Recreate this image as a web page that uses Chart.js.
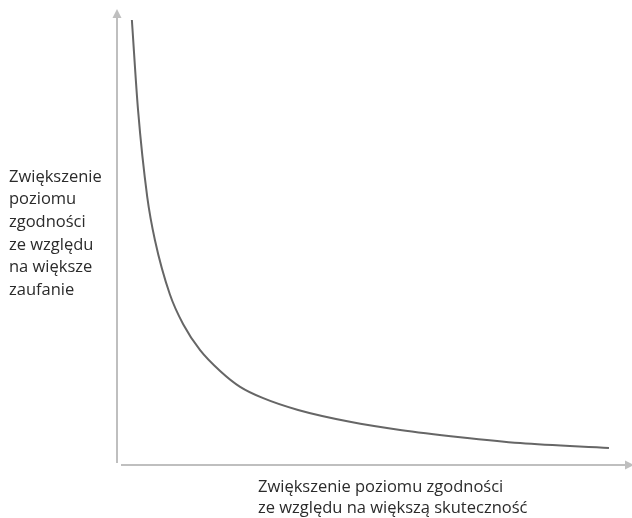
<!DOCTYPE html>
<html>
<head>
<meta charset="utf-8">
<script src="https://cdn.jsdelivr.net/npm/chart.js@4"></script>
<style>
  html, body { margin: 0; padding: 0; background: #fff; }
  #wrap { position: relative; width: 632px; height: 518px; }
</style>
</head>
<body>
<div id="wrap"><canvas id="chart"></canvas></div>
<script>
// Curve (arbitrary units, axes 0..100)
const xValues = [2.9, 4.1, 5.9, 7.4, 10.3, 12.9, 16.2, 20.1, 24.0, 28.5, 35.3, 45.4, 55.2, 66.9, 78.6, 95.9];
const yValues = [97.8, 78.0, 58.8, 49.3, 37.4, 30.8, 25.1, 20.5, 17.0, 14.5, 11.9, 9.3, 7.5, 5.9, 4.6, 3.5];

const yLabelLines = ['Zwiększenie', 'poziomu', 'zgodności', 'ze względu', 'na większe', 'zaufanie'];
const xLabelLines = ['Zwiększenie poziomu zgodności', 'ze względu na większą skuteczność'];

const AXIS_COLOR = '#bfbfbf';
const CURVE_COLOR = '#666666';
const TEXT_COLOR = '#2b2b2b';
const FONT = '16.5px "Open Sans", "Noto Sans", sans-serif';

// Axes with arrow heads plus the two labels
const axesAndLabels = {
    id: 'axesAndLabels',
    beforeDatasetsDraw(chart) {
        const { ctx, chartArea: a } = chart;
        ctx.save();
        ctx.strokeStyle = AXIS_COLOR;
        ctx.fillStyle = AXIS_COLOR;
        ctx.lineWidth = 2;

        // y axis
        ctx.beginPath();
        ctx.moveTo(a.left, a.bottom - 1);
        ctx.lineTo(a.left, a.top + 6);
        ctx.stroke();
        ctx.beginPath();
        ctx.moveTo(a.left, a.top - 1);
        ctx.lineTo(a.left - 4.5, a.top + 8);
        ctx.lineTo(a.left + 4.5, a.top + 8);
        ctx.closePath();
        ctx.fill();

        // x axis
        ctx.beginPath();
        ctx.moveTo(a.left + 4, a.bottom + 1);
        ctx.lineTo(a.right - 4, a.bottom + 1);
        ctx.stroke();
        ctx.beginPath();
        ctx.moveTo(a.right + 4, a.bottom + 1);
        ctx.lineTo(a.right - 5, a.bottom - 3.5);
        ctx.lineTo(a.right - 5, a.bottom + 5.5);
        ctx.closePath();
        ctx.fill();

        // labels
        ctx.fillStyle = TEXT_COLOR;
        ctx.font = FONT;
        ctx.textAlign = 'left';
        ctx.textBaseline = 'middle';
        yLabelLines.forEach((line, i) => ctx.fillText(line, 9, 177 + i * 22.6));
        xLabelLines.forEach((line, i) => ctx.fillText(line, 258, 487 + i * 21.5));
        ctx.restore();
    }
};

new Chart(document.getElementById('chart'), {
    type: 'line',
    data: {
        datasets: [{
            data: xValues.map((x, i) => ({ x: x, y: yValues[i] })),
            borderColor: CURVE_COLOR,
            borderWidth: 2,
            pointRadius: 0,
            fill: false,
            cubicInterpolationMode: 'monotone'
        }]
    },
    options: {
        responsive: true,
        maintainAspectRatio: false,
        animation: false,
        layout: { padding: { left: 117, top: 10, right: 2, bottom: 54 } },
        plugins: { legend: { display: false }, tooltip: { enabled: false } },
        scales: {
            x: { type: 'linear', min: 0, max: 100, display: false },
            y: { type: 'linear', min: 0, max: 100, display: false }
        }
    },
    plugins: [axesAndLabels]
});
</script>
</body>
</html>
